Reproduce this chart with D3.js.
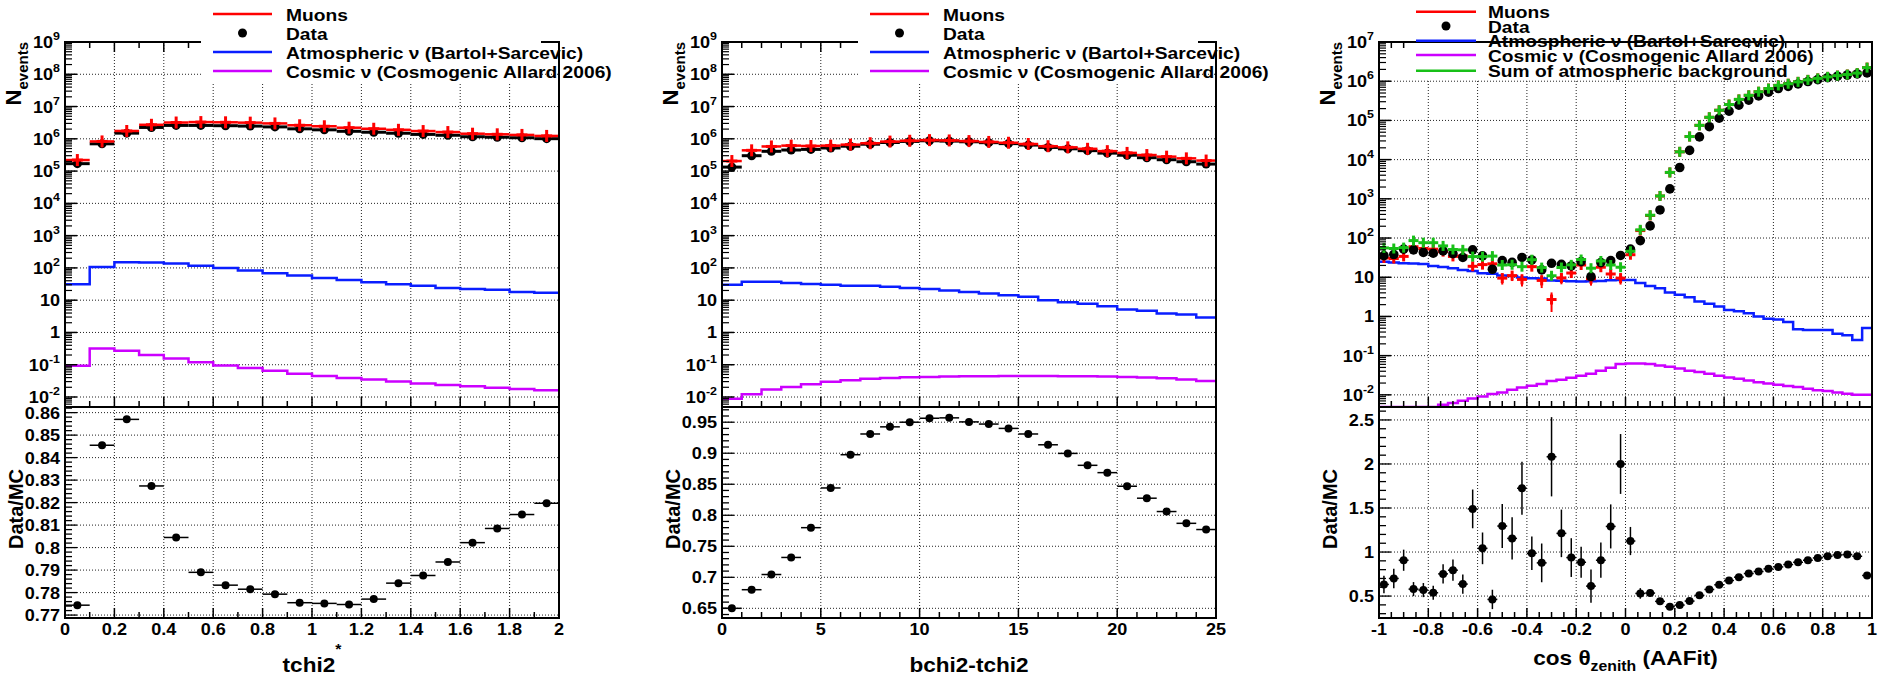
<!DOCTYPE html>
<html><head><meta charset="utf-8">
<script src="https://cdn.jsdelivr.net/npm/d3@7"></script>
<style>
body{margin:0;background:#fff;}
svg{display:block;font-family:"Liberation Sans",Arial,Helvetica,sans-serif;font-weight:bold;}
</style></head><body>
<svg id="c" width="1878" height="679"></svg>
<script>
// ---------------- DATA ----------------
// Panel 1 : tchi2*  (20 bins on [0,2])
const tchiRange = [0, 2];
const tchiData   = [1.7e5, 7.0e5, 1.5e6, 2.25e6, 2.6e6, 2.6e6, 2.55e6, 2.48e6, 2.34e6, 2.04e6, 1.9e6, 1.71e6, 1.6e6, 1.49e6, 1.37e6, 1.29e6, 1.16e6, 1.12e6, 1.08e6, 1.01e6];
const tchiMuons  = [2.2e5, 8.3e5, 1.75e6, 2.72e6, 3.2e6, 3.3e6, 3.25e6, 3.17e6, 3.0e6, 2.63e6, 2.45e6, 2.21e6, 2.05e6, 1.9e6, 1.74e6, 1.62e6, 1.44e6, 1.38e6, 1.32e6, 1.23e6];
const tchiAtm    = [31, 107, 150, 148, 136, 116, 100, 83, 68, 58, 49, 42, 36, 31, 28, 24, 22.4, 21, 18, 17];
const tchiCosmic = [0.093, 0.32, 0.27, 0.2, 0.157, 0.12, 0.095, 0.079, 0.065, 0.053, 0.045, 0.039, 0.035, 0.030, 0.026, 0.0237, 0.0214, 0.0195, 0.0178, 0.0162];
const tchiRatio  = [0.7744, 0.8455, 0.857, 0.8274, 0.8045, 0.789, 0.7833, 0.7815, 0.7793, 0.7755, 0.7752, 0.7747, 0.7771, 0.7842, 0.7876, 0.7936, 0.8022, 0.8085, 0.8147, 0.8197];

// Panel 2 : bchi2-tchi2 (25 bins on [0,25])
const bchiRange = [0, 25];
const bchiData   = [1.33e5, 3.0e5, 4.1e5, 4.5e5, 4.7e5, 5.2e5, 5.9e5, 6.8e5, 7.7e5, 8.3e5, 8.7e5, 8.5e5, 8.1e5, 7.6e5, 7.1e5, 6.4e5, 5.4e5, 4.9e5, 4.3e5, 3.6e5, 3.1e5, 2.6e5, 2.25e5, 1.95e5, 1.65e5];
const bchiMuons  = [2.05e5, 4.4e5, 5.8e5, 6.15e5, 6.0e5, 6.15e5, 6.6e5, 7.3e5, 8.2e5, 8.7e5, 9.1e5, 8.9e5, 8.5e5, 8.0e5, 7.55e5, 6.9e5, 5.9e5, 5.45e5, 4.9e5, 4.15e5, 3.66e5, 3.14e5, 2.8e5, 2.48e5, 2.12e5];
const bchiAtm    = [30, 37, 37, 34, 32, 30, 28, 28, 26, 24, 22.4, 20, 18, 16, 14.3, 12.7, 10, 8.7, 7.7, 6.5, 5.1, 4.7, 3.9, 3.6, 2.9];
const bchiCosmic = [0.0089, 0.0121, 0.017, 0.0205, 0.025, 0.0295, 0.033, 0.0365, 0.039, 0.041, 0.042, 0.043, 0.044, 0.044, 0.045, 0.045, 0.045, 0.044, 0.044, 0.043, 0.042, 0.040, 0.038, 0.035, 0.0316];
const bchiRatio  = [0.650, 0.680, 0.7045, 0.732, 0.780, 0.844, 0.8976, 0.931, 0.9425, 0.950, 0.9564, 0.957, 0.9505, 0.947, 0.940, 0.931, 0.9136, 0.8997, 0.8805, 0.8687, 0.8468, 0.8275, 0.806, 0.787, 0.777];

// Panel 3 : cos theta_zenith (50 bins on [-1,1])
const cosRange = [-1, 1];
const cosData   = [35.6, 38, 52, 50, 43, 41, 47, 40, 32, 50, 35, 16, 26.5, 24, 32, 27.6, 15.4, 22.7, 21.4, 19.4, 25, 10.4, 23.6, 26.5, 36, 52, 86, 204, 521, 1790, 6300, 17200, 38000, 69000, 114000, 172000, 245000, 330000, 420000, 525000, 650000, 740000, 850000, 980000, 1.1e6, 1.23e6, 1.34e6, 1.44e6, 1.53e6, 1.63e6];
const cosSum    = [56, 54, 57, 86, 76, 76, 63, 51, 50, 33.6, 33.6, 34.6, 20.5, 20.8, 18.6, 28, 17.6, 10.9, 17.7, 20.7, 28.3, 17, 26, 20.5, 18, 46, 162, 382, 1184, 4710, 15800, 38800, 74800, 120000, 181500, 254000, 343000, 436000, 539000, 649000, 782000, 862000, 962000, 1.08e6, 1.18e6, 1.29e6, 1.39e6, 1.48e6, 1.61e6, 2.22e6];
const cosMuons  = [31, 30, 34, 60, 54, 52, 45, 34, 35, 19, 21, 22, 9.5, 11, 8.8, 18.6, 8.3, 2.7, 9.6, 12.8, 20.5, 9.1, 18, 12.1, 9.5, 37.5, 155, 376, 1179, 4706, 15796, 38797, 74798, 120000, 181500, 254000, 343000, 436000, 539000, 649000, 782000, 862000, 962000, 1.08e6, 1.18e6, 1.29e6, 1.39e6, 1.48e6, 1.61e6, 2.22e6];
const cosMuErr  = [5, 5, 6, 9, 8, 8, 7, 6, 6, 4, 4, 4, 3, 3, 3, 4, 3, 1.4, 3, 3, 4, 3, 4, 3, 3, 5, 0, 0, 0, 0, 0, 0, 0, 0, 0, 0, 0, 0, 0, 0, 0, 0, 0, 0, 0, 0, 0, 0, 0, 0];
const cosAtm    = [25, 23.6, 22.7, 22.5, 21.7, 19.4, 18.3, 17, 15.4, 14.5, 12.6, 12.2, 11, 10.8, 9.8, 9.4, 9.3, 8.2, 8.1, 7.9, 7.8, 7.9, 8.0, 8.4, 8.5, 8.5, 7.1, 6.0, 5.2, 4.1, 3.6, 3.1, 2.4, 2.1, 1.78, 1.45, 1.35, 1.2, 1.0, 0.87, 0.83, 0.72, 0.47, 0.45, 0.45, 0.45, 0.36, 0.33, 0.25, 0.51];
const cosCosmic = [0.003, 0.003, 0.003, 0.003, 0.003, 0.003, 0.0056, 0.0062, 0.0071, 0.0081, 0.0091, 0.0105, 0.0115, 0.0135, 0.0155, 0.017, 0.019, 0.0224, 0.0243, 0.0273, 0.0307, 0.0345, 0.041, 0.049, 0.0608, 0.063, 0.063, 0.061, 0.056, 0.052, 0.047, 0.041, 0.038, 0.0345, 0.0307, 0.0278, 0.0257, 0.0233, 0.0211, 0.0195, 0.0181, 0.0167, 0.0158, 0.0143, 0.0132, 0.0126, 0.0115, 0.0107, 0.01, 0.0101];
const cosRatio  = [0.632, 0.70, 0.907, 0.579, 0.568, 0.538, 0.752, 0.794, 0.636, 1.49, 1.042, 0.462, 1.295, 1.155, 1.724, 0.986, 0.877, 2.082, 1.212, 0.937, 0.884, 0.613, 0.907, 1.291, 2.0, 1.125, 0.53, 0.534, 0.44, 0.38, 0.398, 0.443, 0.508, 0.575, 0.628, 0.677, 0.715, 0.756, 0.779, 0.809, 0.831, 0.858, 0.884, 0.907, 0.933, 0.952, 0.967, 0.971, 0.952, 0.734];
const cosRatioErr = [0.1, 0.11, 0.12, 0.08, 0.08, 0.08, 0.11, 0.12, 0.11, 0.22, 0.18, 0.11, 0.25, 0.24, 0.3, 0.19, 0.22, 0.45, 0.27, 0.22, 0.175, 0.19, 0.2, 0.25, 0.34, 0.16, 0.06, 0.04, 0.02, 0.015, 0.01, 0.01, 0.01, 0.01, 0.01, 0.01, 0.01, 0.01, 0.01, 0.01, 0.01, 0.01, 0.01, 0.01, 0.01, 0.01, 0.01, 0.01, 0.01, 0.01];

// Tick labels
const tchiTicks = [0, 0.2, 0.4, 0.6, 0.8, 1, 1.2, 1.4, 1.6, 1.8, 2];
const bchiTicks = [0, 5, 10, 15, 20, 25];
const cosTicks  = [-1, -0.8, -0.6, -0.4, -0.2, 0, 0.2, 0.4, 0.6, 0.8, 1];
const tchiRatioTicks = [0.77, 0.78, 0.79, 0.80, 0.81, 0.82, 0.83, 0.84, 0.85, 0.86];
const bchiRatioTicks = [0.65, 0.7, 0.75, 0.8, 0.85, 0.9, 0.95];
const cosRatioTicks  = [0.5, 1, 1.5, 2, 2.5];
const decades9 = [-2, -1, 0, 1, 2, 3, 4, 5, 6, 7, 8, 9];
const decades7 = [-2, -1, 0, 1, 2, 3, 4, 5, 6, 7];

// Legend texts
const legendLabels = ["Muons", "Data", "Atmospheric \u03bd (Bartol+Sarcevic)", "Cosmic \u03bd (Cosmogenic Allard 2006)", "Sum of atmospheric background"];

// ---------------- STYLE / LAYOUT ----------------
const TOP0 = 42, TOP1 = 407, LOW1 = 618;
const SX = 1.13;
const RED = "#ff0000", BLUE = "#0a1eff", MAG = "#cc00ff", GREEN = "#18c018";

const svg = d3.select("#c");

function txt(g, x, y, anchor, size, parts, rot) {
  const tr = rot ? `translate(${x},${y}) rotate(-90)` : `translate(${x},${y}) scale(${SX},1)`;
  const t = g.append("text").attr("transform", tr).attr("text-anchor", anchor).attr("font-size", size).attr("fill", "#000");
  parts.forEach(p => {
    const ts = t.append("tspan").text(p.t);
    if (p.size) ts.attr("font-size", p.size);
    if (p.dy) ts.attr("dy", p.dy);
  });
  return t;
}
const fmt = v => String(+v.toFixed(3));
function expParts(e) {
  if (e === 0) return [{t: "1"}];
  if (e === 1) return [{t: "10"}];
  return [{t: "10"}, {t: String(e), size: 11, dy: -8}];
}
function cross(g, cx, cy, hw, hh, color, w) {
  g.append("line").attr("x1", cx - hw).attr("x2", cx + hw).attr("y1", cy).attr("y2", cy).attr("stroke", color).attr("stroke-width", w);
  g.append("line").attr("x1", cx).attr("x2", cx).attr("y1", cy - hh).attr("y2", cy + hh).attr("stroke", color).attr("stroke-width", w);
}
function rangeStep(lo, hi, step) {
  const out = []; const n = Math.round((hi - lo) / step);
  for (let i = 0; i <= n; i++) out.push(lo + i * step);
  return out;
}

function drawPanel(P) {
  const g = svg.append("g");
  const x = d3.scaleLinear().domain(P.xDom).range([P.x0, P.x1]);
  const yT = d3.scaleLog().domain([P.topMin, P.topMax]).range([TOP1, TOP0]).clamp(true);
  const yL = d3.scaleLinear().domain(P.lowDom).range([LOW1, TOP1]);
  const n = P.ratio.length;
  const bw = (P.xDom[1] - P.xDom[0]) / n;
  const edges = d3.range(n + 1).map(i => P.xDom[0] + i * bw);
  const ctr = d3.range(n).map(i => P.xDom[0] + (i + 0.5) * bw);

  // ---- top grid
  const grid = g.append("g").attr("stroke", "#222").attr("stroke-width", 1).attr("stroke-dasharray", "1,2");
  P.xTicks.filter(v => v > P.xDom[0] && v < P.xDom[1]).forEach(v =>
    grid.append("line").attr("x1", x(v)).attr("x2", x(v)).attr("y1", TOP0).attr("y2", TOP1));
  P.decades.filter(e => Math.pow(10, e) < P.topMax).forEach(e =>
    grid.append("line").attr("x1", P.x0).attr("x2", P.x1).attr("y1", yT(Math.pow(10, e))).attr("y2", yT(Math.pow(10, e))));

  // ---- histograms
  const line = d3.line();
  const step = vals => { const pts = []; vals.forEach((v, i) => { pts.push([x(edges[i]), yT(v)]); pts.push([x(edges[i + 1]), yT(v)]); }); return pts; };
  g.append("path").attr("d", line(step(P.cosmic))).attr("fill", "none").attr("stroke", MAG).attr("stroke-width", 2.5);
  g.append("path").attr("d", line(step(P.atm))).attr("fill", "none").attr("stroke", BLUE).attr("stroke-width", 2.5);

  // ---- data & MC points
  const pg = g.append("g");
  if (!P.sum) {
    P.data.forEach((v, i) => {
      pg.append("line").attr("x1", x(edges[i])).attr("x2", x(edges[i + 1])).attr("y1", yT(v)).attr("y2", yT(v)).attr("stroke", "#000").attr("stroke-width", 3);
      pg.append("circle").attr("cx", x(ctr[i])).attr("cy", yT(v)).attr("r", 4.5).attr("fill", "#000");
    });
    P.muons.forEach((v, i) => {
      pg.append("line").attr("x1", x(edges[i])).attr("x2", x(edges[i + 1])).attr("y1", yT(v)).attr("y2", yT(v)).attr("stroke", RED).attr("stroke-width", 2.5);
      cross(pg, x(ctr[i]), yT(v), 5.5, 6, RED, 3);
    });
  } else {
    P.muons.forEach((v, i) => {
      const e = P.muErr[i];
      if (e > 0) pg.append("line").attr("x1", x(ctr[i])).attr("x2", x(ctr[i])).attr("y1", yT(v + e)).attr("y2", yT(Math.max(v - e, 1e-3))).attr("stroke", RED).attr("stroke-width", 2);
      cross(pg, x(ctr[i]), yT(v), 5, 5, RED, 3);
    });
    P.data.forEach((v, i) => pg.append("circle").attr("cx", x(ctr[i])).attr("cy", yT(v)).attr("r", 4.8).attr("fill", "#000"));
    P.sum.forEach((v, i) => cross(pg, x(ctr[i]), yT(v), 5, 5, GREEN, 3));
  }

  // ---- top frame & ticks
  const ax = g.append("g").attr("stroke", "#000");
  ax.append("rect").attr("x", P.x0).attr("y", TOP0).attr("width", P.x1 - P.x0).attr("height", TOP1 - TOP0).attr("fill", "none").attr("stroke-width", 2);
  const xMinor = rangeStep(P.xDom[0], P.xDom[1], P.xMinorStep);
  xMinor.forEach(v => {
    const major = P.xTicks.some(t => Math.abs(t - v) < 1e-9);
    const L = major ? 10 : 6;
    ax.append("line").attr("x1", x(v)).attr("x2", x(v)).attr("y1", TOP1).attr("y2", TOP1 - L).attr("stroke-width", 1.5);
    ax.append("line").attr("x1", x(v)).attr("x2", x(v)).attr("y1", TOP0).attr("y2", TOP0 + L).attr("stroke-width", 1.5);
  });
  P.decades.forEach(e => {
    const d = Math.pow(10, e);
    ax.append("line").attr("x1", P.x0).attr("x2", P.x0 + 12).attr("y1", yT(d)).attr("y2", yT(d)).attr("stroke-width", 1.5);
    for (let k = 2; k <= 9; k++) {
      const v = k * d;
      if (v > P.topMax) continue;
      ax.append("line").attr("x1", P.x0).attr("x2", P.x0 + 7).attr("y1", yT(v)).attr("y2", yT(v)).attr("stroke-width", 1.2);
    }
  });
  for (let k = 2; k <= 9; k++) {
    const v = k * Math.pow(10, P.decades[0] - 1);
    if (v >= P.topMin) ax.append("line").attr("x1", P.x0).attr("x2", P.x0 + 7).attr("y1", yT(v)).attr("y2", yT(v)).attr("stroke-width", 1.2);
  }
  const lab = g.append("g");
  P.decades.forEach(e => txt(lab, P.x0 - 5, yT(Math.pow(10, e)) + 6, "end", 16, expParts(e)));
  txt(lab, P.x0 - 44, TOP0, "end", 22, [{t: "N"}, {t: "events", size: 15, dy: 7}], true);

  // ---- lower pad
  g.append("rect").attr("x", P.x0 - 64).attr("y", TOP1 + 1).attr("width", P.x1 - P.x0 + 70).attr("height", 679 - TOP1 - 1).attr("fill", "#fff");
  const grid2 = g.append("g").attr("stroke", "#222").attr("stroke-width", 1).attr("stroke-dasharray", "1,2");
  P.xTicks.filter(v => v > P.xDom[0] && v < P.xDom[1]).forEach(v =>
    grid2.append("line").attr("x1", x(v)).attr("x2", x(v)).attr("y1", TOP1).attr("y2", LOW1));
  P.lowTicks.forEach(v => grid2.append("line").attr("x1", P.x0).attr("x2", P.x1).attr("y1", yL(v)).attr("y2", yL(v)));

  const rg = g.append("g");
  P.ratio.forEach((v, i) => {
    rg.append("line").attr("x1", x(edges[i])).attr("x2", x(edges[i + 1])).attr("y1", yL(v)).attr("y2", yL(v)).attr("stroke", "#000").attr("stroke-width", 1.5);
    if (P.ratioErr) rg.append("line").attr("x1", x(ctr[i])).attr("x2", x(ctr[i])).attr("y1", yL(v + P.ratioErr[i])).attr("y2", yL(v - P.ratioErr[i])).attr("stroke", "#000").attr("stroke-width", 1.5);
    rg.append("circle").attr("cx", x(ctr[i])).attr("cy", yL(v)).attr("r", 4).attr("fill", "#000");
  });

  const ax2 = g.append("g").attr("stroke", "#000");
  ax2.append("rect").attr("x", P.x0).attr("y", TOP1).attr("width", P.x1 - P.x0).attr("height", LOW1 - TOP1).attr("fill", "none").attr("stroke-width", 2);
  xMinor.forEach(v => {
    const major = P.xTicks.some(t => Math.abs(t - v) < 1e-9);
    ax2.append("line").attr("x1", x(v)).attr("x2", x(v)).attr("y1", LOW1).attr("y2", LOW1 - (major ? 10 : 6)).attr("stroke-width", 1.5);
  });
  rangeStep(P.lowMinorStart, P.lowDom[1], P.lowMinorStep).filter(v => v >= P.lowDom[0] && v <= P.lowDom[1]).forEach(v => {
    const major = P.lowTicks.some(t => Math.abs(t - v) < 1e-6);
    ax2.append("line").attr("x1", P.x0).attr("x2", P.x0 + (major ? 12 : 7)).attr("y1", yL(v)).attr("y2", yL(v)).attr("stroke-width", 1.3);
  });
  const lab2 = g.append("g");
  P.lowTicks.forEach(v => txt(lab2, P.x0 - 5, yL(v) + 6, "end", 16, [{t: fmt(v)}]));
  P.xTicks.forEach(v => txt(lab2, x(v), 635, "middle", 16, [{t: fmt(v)}]));
  txt(lab2, P.x0 - 42, 509, "middle", 20, [{t: "Data/MC"}], true);
  txt(lab2, (P.x0 + P.x1) / 2, P.titleY, "middle", 20, P.xTitle);

  // ---- legend
  const lgd = g.append("g");
  lgd.append("rect").attr("x", P.x0 + P.leg.box[0]).attr("y", 0).attr("width", P.leg.box[1] - P.leg.box[0]).attr("height", P.leg.boxH).attr("fill", "#fff");
  if (P.leg.redrawFrame) lgd.append("line").attr("x1", P.x0).attr("x2", P.x1).attr("y1", TOP0).attr("y2", TOP0).attr("stroke", "#000").attr("stroke-width", 2);
  const items = P.leg.items;
  items.forEach((it, k) => {
    const yy = P.leg.rows[k];
    const lx0 = P.x0 + P.leg.line[0], lx1 = P.x0 + P.leg.line[1];
    if (it.type === "dot") lgd.append("circle").attr("cx", (lx0 + lx1) / 2).attr("cy", yy).attr("r", 4.5).attr("fill", "#000");
    else lgd.append("line").attr("x1", lx0).attr("x2", lx1).attr("y1", yy).attr("y2", yy).attr("stroke", it.color).attr("stroke-width", 2.5);
    txt(lgd, P.x0 + P.leg.text, yy + 6.5, "start", 17, [{t: legendLabels[it.label]}]);
  });
}

const legItems4 = [{type: "line", color: RED, label: 0}, {type: "dot", label: 1}, {type: "line", color: BLUE, label: 2}, {type: "line", color: MAG, label: 3}];
const legItems5 = legItems4.concat([{type: "line", color: GREEN, label: 4}]);

drawPanel({
  x0: 65, x1: 559, xDom: tchiRange, xTicks: tchiTicks, xMinorStep: 0.1,
  topMin: 0.0049, topMax: 1e9, decades: decades9,
  lowDom: [0.7687, 0.8625], lowTicks: tchiRatioTicks, lowMinorStart: 0.768, lowMinorStep: 0.002,
  data: tchiData, muons: tchiMuons, atm: tchiAtm, cosmic: tchiCosmic, ratio: tchiRatio,
  xTitle: [{t: "tchi2"}, {t: "*", size: 14, dy: -18}], titleY: 672,
  leg: {box: [136, 476], boxH: 82, line: [148, 207], text: 221, rows: [14, 33, 52, 71], items: legItems4}
});
drawPanel({
  x0: 722, x1: 1216, xDom: bchiRange, xTicks: bchiTicks, xMinorStep: 1,
  topMin: 0.0049, topMax: 1e9, decades: decades9,
  lowDom: [0.6344, 0.9745], lowTicks: bchiRatioTicks, lowMinorStart: 0.64, lowMinorStep: 0.01,
  data: bchiData, muons: bchiMuons, atm: bchiAtm, cosmic: bchiCosmic, ratio: bchiRatio,
  xTitle: [{t: "bchi2-tchi2"}], titleY: 672,
  leg: {box: [136, 476], boxH: 82, line: [148, 207], text: 221, rows: [14, 33, 52, 71], items: legItems4}
});
drawPanel({
  x0: 1379, x1: 1872, xDom: cosRange, xTicks: cosTicks, xMinorStep: 0.05,
  topMin: 0.0049, topMax: 1e7, decades: decades7,
  lowDom: [0.251, 2.647], lowTicks: cosRatioTicks, lowMinorStart: 0.3, lowMinorStep: 0.1,
  data: cosData, muons: cosMuons, muErr: cosMuErr, sum: cosSum, atm: cosAtm, cosmic: cosCosmic, ratio: cosRatio, ratioErr: cosRatioErr,
  xTitle: [{t: "cos \u03b8"}, {t: "zenith", size: 14, dy: 6}, {t: " (AAFit)", dy: -6}], titleY: 665,
  leg: {box: [35, 367], boxH: 80, line: [37, 97], text: 109, rows: [11.7, 26, 40.7, 55, 70.7], items: legItems5, redrawFrame: true}
});
</script>
</body></html>
